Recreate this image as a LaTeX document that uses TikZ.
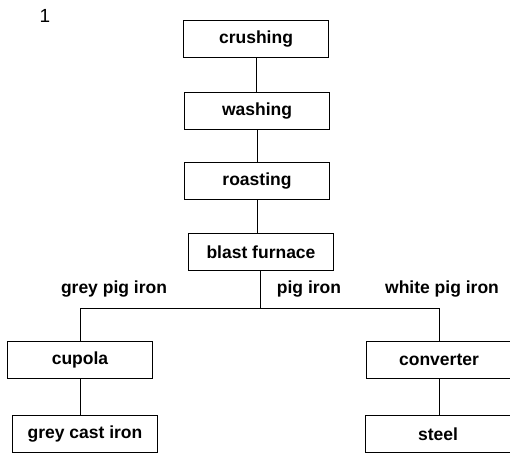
\documentclass[tikz,border=0pt]{standalone}
\usepackage{fontspec}
\setmainfont{Liberation Sans}

\begin{document}
\begin{tikzpicture}[x=1pt,y=-1pt,line width=1pt]
			\useasboundingbox (0,0) rectangle (510,453);
			\tikzstyle{stage}=[draw=black,minimum width=145pt,minimum height=37pt,inner sep=0pt,font=\fontsize{17.5}{21}\selectfont\bfseries]
			\tikzstyle{branch}=[font=\fontsize{17.5}{21}\selectfont\bfseries]
				\node[font=\fontsize{19}{22}\selectfont](fig) at (45,16){1};
				\node[stage](crush) at (256,39){crushing};
				\node[stage](wash) at (257,111){washing};
				\node[stage](roast) at (257,181){roasting};
				\node[stage](blast) at (261,252){blast furnace};
				\coordinate (split) at (260,308);
				\node[branch](grey) at (114,289){grey pig iron};
				\node[branch](pig) at (309,289){pig iron};
				\node[branch](white) at (442,289){white pig iron};
				\node[stage](cupola) at (80,360){cupola};
				\node[stage](conv) at (439,360){converter};
				\node[stage](gci) at (85,434){grey cast iron};
				\node[stage](steel) at (438,434){steel};
				\path[draw]
					(crush) -- (crush |- wash.north)
					(wash) -- (wash |- roast.north)
					(roast) -- (roast |- blast.north)
					(split |- blast.south) -- (split)
					(cupola.north) |- (split)
					(conv.north) |- (split)
					(cupola.south) -- (cupola.south |- gci.north)
					(conv.south) -- (conv.south |- steel.north);
			\end{tikzpicture}
\end{document}
